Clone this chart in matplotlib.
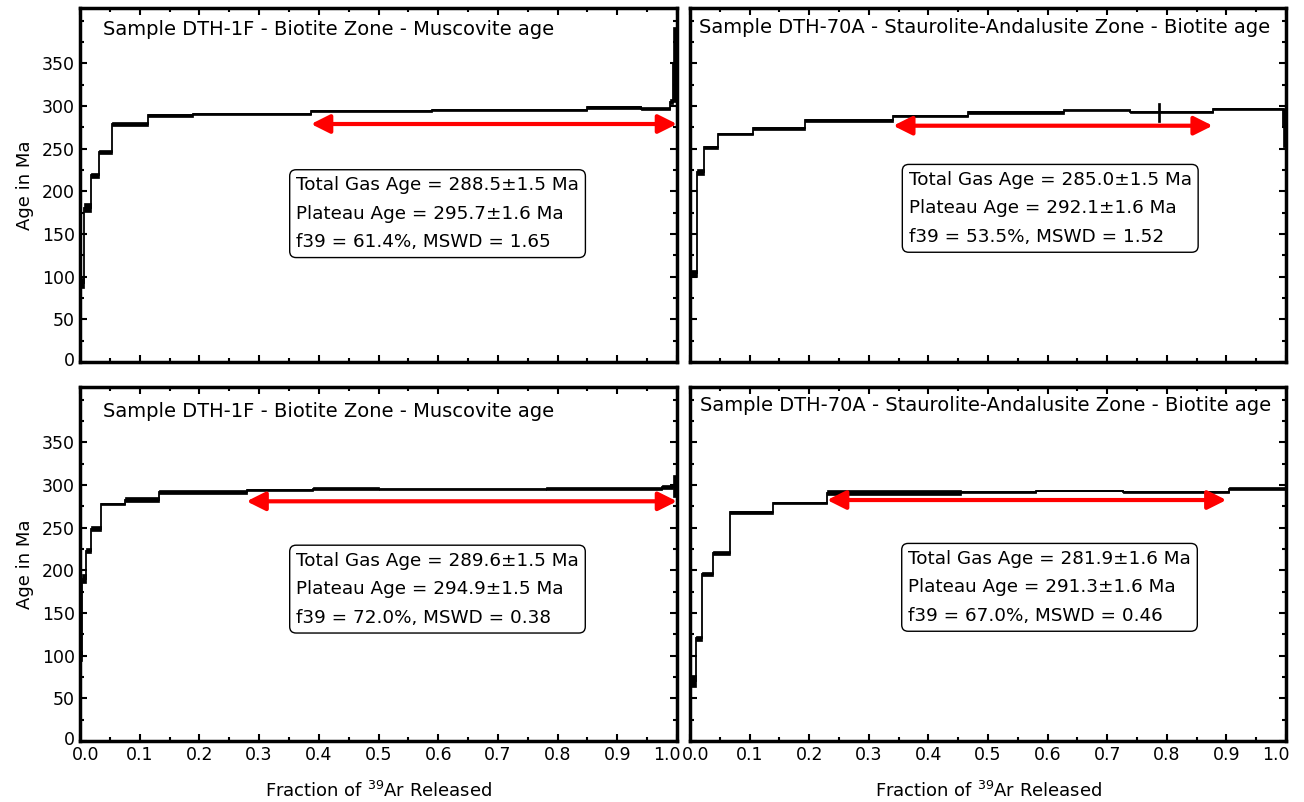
import matplotlib.pyplot as plt
import matplotlib.transforms as mtransforms
from matplotlib.ticker import MultipleLocator

plt.rcParams['font.family'] = ['DejaVu Sans']

# step-heating spectra: cumulative 39Ar fraction edges, ages (Ma), 1-sigma errors
tl_edges = [0, 0.007, 0.018, 0.032, 0.054, 0.114, 0.19, 0.387, 0.59, 0.85, 0.94, 0.988, 0.993, 1.0]
tl_ages = [93, 181, 219, 246, 279, 289, 290.5, 294, 295.5, 298.5, 297, 305, 349]
tl_errs = [6, 5, 3, 2, 2.5, 1.5, 1, 1.5, 1.5, 1.5, 1.5, 3, 44]

tr_edges = [0, 0.011, 0.024, 0.047, 0.105, 0.193, 0.341, 0.467, 0.627, 0.738, 0.786, 0.789, 0.877, 0.995, 1.0]
tr_ages = [104, 222.5, 251.5, 267.5, 274, 283.3, 288.7, 292.7, 295, 292.7, 292.5, 292.7, 296.2, 275]
tr_errs = [4, 3.5, 2, 1.5, 1.5, 1.5, 1, 2, 1, 1, 11, 1, 1, 23]

bl_edges = [0, 0.004, 0.01, 0.019, 0.035, 0.076, 0.133, 0.279, 0.39, 0.5, 0.78, 0.975, 0.994, 1.0]
bl_ages = [100, 190.5, 223, 249, 278, 283, 292, 294, 296, 295, 296, 298, 299]
bl_errs = [6, 5, 3, 2.5, 1.5, 2.5, 2, 1.5, 1.5, 1, 1.5, 2, 13]

br_edges = [0, 0.01, 0.02, 0.039, 0.067, 0.139, 0.23, 0.454, 0.58, 0.727, 0.904, 1.0]
br_ages = [70.5, 120.5, 196, 220.7, 268, 279, 291, 292, 293.5, 291.5, 296]
br_errs = [7, 3, 2.5, 2.5, 2, 1.2, 3, 1, 1, 1, 2]

# plateau arrows: start fraction, end fraction, drawn at age
tl_plateau = (0.387, 1.0, 279)
tr_plateau = (0.341, 0.877, 277)
bl_plateau = (0.279, 1.0, 281)
br_plateau = (0.23, 0.9, 282.5)

titles = ["Sample DTH-1F - Biotite Zone - Muscovite age",
          "Sample DTH-70A - Staurolite-Andalusite Zone - Biotite age",
          "Sample DTH-1F - Biotite Zone - Muscovite age",
          "Sample DTH-70A - Staurolite-Andalusite Zone - Biotite age"]

box_texts = ["Total Gas Age = 288.5\u00b11.5 Ma\nPlateau Age = 295.7\u00b11.6 Ma\nf39 = 61.4%, MSWD = 1.65",
             "Total Gas Age = 285.0\u00b11.5 Ma\nPlateau Age = 292.1\u00b11.6 Ma\nf39 = 53.5%, MSWD = 1.52",
             "Total Gas Age = 289.6\u00b11.5 Ma\nPlateau Age = 294.9\u00b11.5 Ma\nf39 = 72.0%, MSWD = 0.38",
             "Total Gas Age = 281.9\u00b11.6 Ma\nPlateau Age = 291.3\u00b11.6 Ma\nf39 = 67.0%, MSWD = 0.46"]

W, H = 1304, 802
fig = plt.figure(figsize=(W / 100, H / 100), dpi=100)


def px_axes(x0, x1, ytop, ybot):
    return fig.add_axes([x0 / W, (H - ybot) / H, (x1 - x0) / W, (ybot - ytop) / H])


def shift(label, dx, dy):
    label.set_transform(label.get_transform() +
                        mtransforms.ScaledTranslation(dx / 100, dy / 100, fig.dpi_scale_trans))


axes = [px_axes(80, 677, 8, 362), px_axes(690, 1286, 8, 362),
        px_axes(80, 677, 387, 741), px_axes(690, 1286, 387, 741)]
spectra = [(tl_edges, tl_ages, tl_errs), (tr_edges, tr_ages, tr_errs),
           (bl_edges, bl_ages, bl_errs), (br_edges, br_ages, br_errs)]
plateaus = [tl_plateau, tr_plateau, bl_plateau, br_plateau]
title_pos = [(0.038, 0.94), (0.015, 0.946), (0.038, 0.932), (0.017, 0.949)]
box_pos = [(0.362, 0.525), (0.367, 0.54), (0.362, 0.535), (0.366, 0.54)]

for i, ax in enumerate(axes):
    edges, ages, errs = spectra[i]
    widths = [edges[k + 1] - edges[k] for k in range(len(ages))]
    lows = [a - e for a, e in zip(ages, errs)]
    ax.bar(edges[:-1], [2 * e for e in errs], width=widths, bottom=lows,
           align='edge', color='black', edgecolor='black', linewidth=0.5)
    ax.stairs(ages, edges, color='black', linewidth=1.3)

    f0, f1, yarr = plateaus[i]
    ax.annotate('', xy=(f1, yarr), xytext=(f0, yarr),
                arrowprops=dict(arrowstyle='<|-|>', color='red', lw=3,
                                mutation_scale=28, shrinkA=0, shrinkB=0))

    ax.text(*title_pos[i], titles[i], transform=ax.transAxes, fontsize=14,
            va='center', ha='left')
    ax.text(*box_pos[i], box_texts[i], transform=ax.transAxes, fontsize=13.2,
            va='top', ha='left', linespacing=1.75,
            bbox=dict(boxstyle='round,pad=0.35', facecolor='white', edgecolor='black', lw=1))

    ax.set_xlim(0, 1)
    ax.set_ylim(0, 415)
    ax.set_xticks([k / 10 for k in range(11)])
    ax.set_yticks(range(0, 351, 50))
    ax.xaxis.set_minor_locator(MultipleLocator(0.05))
    ax.yaxis.set_minor_locator(MultipleLocator(25))
    ax.tick_params(which='both', direction='in', top=True, right=True, width=1.5)
    ax.tick_params(which='major', length=5, labelsize=12.5)
    ax.tick_params(which='minor', length=3)
    for s in ax.spines.values():
        s.set_linewidth(2.5)

    if i in (0, 2):
        ax.set_ylabel('Age in Ma', fontsize=13, labelpad=6)
        shift(ax.get_yticklabels()[0], 0, 3)
    else:
        ax.tick_params(labelleft=False)
    if i in (0, 1):
        ax.tick_params(labelbottom=False)
    else:
        ax.set_xlabel('Fraction of $^{39}$Ar Released', fontsize=13, labelpad=12)
        ax.set_xticklabels(['%.1f' % (k / 10) for k in range(11)])
        labels = ax.get_xticklabels()
        shift(labels[0], 6, 0)
        shift(labels[-1], -10, 0)

fig.savefig('out.png', dpi=100)
